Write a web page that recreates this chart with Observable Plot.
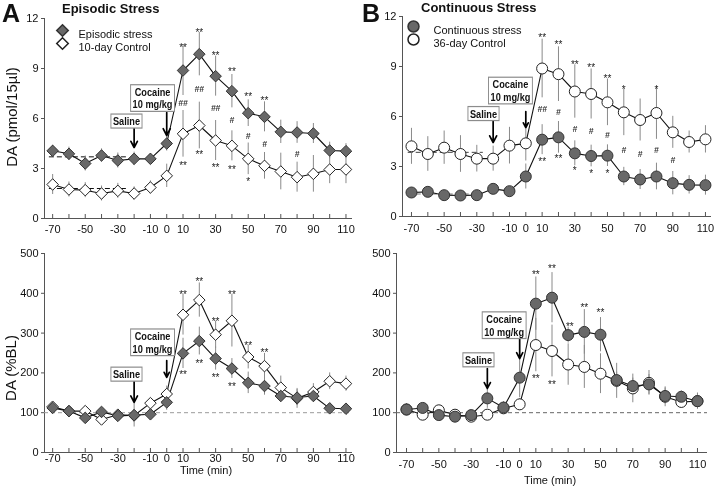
<!DOCTYPE html>
<html><head><meta charset="utf-8">
<script src="https://cdn.jsdelivr.net/npm/d3@7"></script>
<script src="https://cdn.jsdelivr.net/npm/@observablehq/plot@0.6"></script>
<style>
body{margin:0;background:#fff;}
#chart{position:relative;width:720px;height:490px;overflow:hidden;font-family:"Liberation Sans",Arial,sans-serif;color:#111;filter:grayscale(1);}
.panel{position:absolute;}
.lbl{position:absolute;white-space:nowrap;line-height:1;}
.letter{font-weight:bold;font-size:25px;}
.title{font-weight:bold;font-size:13px;}
.ylab{font-size:15px;transform:translate(-50%,-50%) rotate(-90deg);}
.xlab{font-size:11px;transform:translate(-50%,-50%);}
</style></head><body><div id="chart"></div>
<script>
// ---------- data ----------
const times = [-70,-60,-50,-40,-30,-20,-10,0,10,20,30,40,50,60,70,80,90,100,110];
const xTickLabels = [-70,-50,-30,-10,0,10,30,50,70,90,110];
const yTicksDA = [0,3,6,9,12];
const yTicksBL = [0,100,200,300,400,500];

// Panel A top: DA (pmol/15µl)
const aStressDA   = [4.06,3.88,3.30,3.78,3.48,3.58,3.58,4.50,8.88,9.86,8.54,7.64,6.32,6.10,5.20,5.16,5.10,4.08,4.04];
const aStressDAse = [0.35,0.4,0.45,0.4,0.45,0.4,0.3,0.45,1.5,1.3,1.2,1.0,0.8,0.9,0.7,0.65,0.6,0.5,0.45];
const aCtrlDA     = [2.04,1.74,1.70,1.50,1.66,1.50,1.86,2.56,5.08,5.58,4.68,4.36,3.58,3.16,2.82,2.48,2.68,2.94,2.94];
const aCtrlDAse   = [0.6,0.45,0.45,0.45,0.45,0.4,0.4,0.7,1.4,1.4,1.2,0.9,0.95,0.8,1.1,0.9,1.1,0.85,0.85];

// Panel B top
const bCtrlDA     = [4.21,3.75,4.13,3.75,3.47,3.47,4.25,4.39,8.88,8.54,7.50,7.35,6.85,6.25,5.79,6.21,5.05,4.47,4.63];
const bCtrlDAse   = [1.08,1.04,1.0,1.1,0.8,0.75,1.1,1.06,1.76,1.64,1.6,1.5,1.4,1.4,1.26,1.58,0.96,0.66,0.82];
const bStressDA   = [1.44,1.48,1.28,1.26,1.28,1.66,1.52,2.40,4.61,4.75,3.79,3.63,3.65,2.40,2.22,2.40,2.00,1.90,1.88];
const bStressDAse = [0.25,0.25,0.2,0.25,0.25,0.2,0.2,0.75,0.9,0.95,0.75,0.65,0.65,0.55,0.6,0.8,0.7,0.55,0.6];

// Panel A bottom: DA (%BL)
const aStressBL   = [112,104,87,102,92,94,96,126,249,280,236,211,175,167,142,138,142,111,110];
const aStressBLse = [10,8,10,8,8,30,10,20,38,35,29,25,27,23,15,20,15,8,8];
const aCtrlBL     = [115,104,104,83,95,93,124,147,346,383,296,331,240,217,163,136,152,179,173];
const aCtrlBLse   = [10,8,10,8,8,10,10,20,51,43,34,66,30,32,29,25,21,21,19];

// Panel B bottom
const bStressBL   = [108,112,94,90,94,136,113,188,374,389,295,303,296,182,167,171,142,140,129];
const bStressBLse = [15,10,10,8,10,25,15,50,67,63,20,56,43,20,20,25,20,15,20];
const bCtrlBL     = [108,95,106,95,90,95,111,121,270,255,221,215,198,180,161,175,140,127,129];
const bCtrlBLse   = [10,8,8,8,8,8,10,15,67,65,52,54,50,44,36,31,25,15,20];

// significance marks
const aTopMarks = [
  {t:10,v:10.4,s:"**"},{t:20,v:11.34,s:"**"},{t:30,v:9.96,s:"**"},{t:40,v:9.0,s:"**"},{t:50,v:7.5,s:"**"},{t:60,v:7.26,s:"**"},
  {t:10,v:3.34,s:"**"},{t:20,v:4.0,s:"**"},{t:30,v:3.2,s:"**"},{t:40,v:3.1,s:"**"},{t:50,v:2.38,s:"*"},
  {t:10,v:6.9,s:"##"},{t:20,v:7.74,s:"##"},{t:30,v:6.6,s:"##"},{t:40,v:5.9,s:"#"},{t:50,v:4.94,s:"#"},{t:60,v:4.46,s:"#"},{t:80,v:3.86,s:"#"}
];
const bTopMarks = [
  {t:10,v:10.88,s:"**"},{t:20,v:10.5,s:"**"},{t:30,v:9.28,s:"**"},{t:40,v:9.1,s:"**"},{t:50,v:8.44,s:"**"},{t:60,v:7.78,s:"*"},{t:80,v:7.78,s:"*"},
  {t:10,v:6.45,s:"##"},{t:20,v:6.25,s:"#"},{t:30,v:5.23,s:"#"},{t:40,v:5.09,s:"#"},{t:50,v:4.89,s:"#"},{t:60,v:3.95,s:"#"},{t:70,v:3.71,s:"#"},{t:80,v:3.95,s:"#"},{t:90,v:3.35,s:"#"},
  {t:10,v:3.45,s:"**"},{t:20,v:3.65,s:"**"},{t:30,v:2.91,s:"*"},{t:40,v:2.75,s:"*"},{t:50,v:2.75,s:"*"}
];
const aBotMarks = [
  {t:10,v:404,s:"**"},{t:20,v:437,s:"**"},{t:30,v:337,s:"**"},{t:40,v:405,s:"**"},{t:50,v:276,s:"**"},{t:60,v:257,s:"**"},
  {t:10,v:203,s:"**"},{t:20,v:230,s:"**"},{t:30,v:194,s:"**"},{t:40,v:173,s:"**"}
];
const bBotMarks = [
  {t:10,v:454,s:"**"},{t:20,v:468,s:"**"},{t:31,v:324,s:"**"},{t:40,v:370,s:"**"},{t:50,v:358,s:"**"},
  {t:10,v:192,s:"**"},{t:20,v:178,s:"**"}
];

// annotations (boxes + arrows)
const aTopNotes = [{label:"Saline",t:-24.7,v:5.85},{label:"Cocaine\n10 mg/kg",t:-8.7,v:7.23}];
const aTopArrows = [{t:-20,from:5.52,to:4.26},{t:0,from:6.36,to:4.98}];
const bTopNotes = [{label:"Saline",t:-25.9,v:6.18},{label:"Cocaine\n10 mg/kg",t:-9.4,v:7.56}];
const bTopArrows = [{t:-20,from:5.8,to:4.44},{t:0,from:6.3,to:5.34}];
const aBotNotes = [{label:"Saline",t:-24.7,v:197},{label:"Cocaine\n10 mg/kg",t:-8.7,v:277}];
const aBotArrows = [{t:-20,from:181,to:126},{t:0,from:231,to:189}];
const bBotNotes = [{label:"Saline",t:-25.5,v:233},{label:"Cocaine\n10 mg/kg",t:-9.6,v:320}];
const bBotArrows = [{t:-20,from:211,to:161},{t:0,from:286,to:236}];

// baseline dashed lines
const aTopBase = [{v:3.7,a:-72,b:-23,c:"#111"},{v:1.8,a:-72,b:-23,c:"#111"}];
const bTopBase = [{v:3.85,a:-72,b:-26,c:"#444"},{v:1.35,a:-72,b:-26,c:"#777"}];

const aLegend = ["Episodic stress","10-day Control"];
const bLegend = ["Continuous stress","36-day Control"];

// ---------- helpers ----------
const zip = (vals, ses) => times.map((t,i) => ({t, v: vals[i], se: ses[i]}));
const FONT = "'Liberation Sans', Arial, sans-serif";

function panel(o) {
  const stress = zip(o.stress[0], o.stress[1]);
  const ctrl = zip(o.ctrl[0], o.ctrl[1]);
  const sym = o.symbol;
  const r = sym === "circle" ? 5.5 : 5.2;
  const marks = [
    Plot.ruleY([o.yDomain[0]], {stroke: "#555"}),
    Plot.ruleX([o.xDomain[0]], {stroke: "#555"}),
    Plot.axisX({ticks: times, tickSize: 4, dy: -4, tickFormat: () => "", label: null, stroke: "#555"}),
    Plot.axisX({ticks: xTickLabels, tickSize: 0, tickPadding: o.tickPad, tickFormat: d => String(d), label: null, fontSize: 11}),
    Plot.axisY({ticks: o.yTicks, tickSize: 3, tickPadding: 3, tickFormat: d => String(d), label: null, fontSize: 11, stroke: "#555"}),
  ];
  if (o.base) marks.push(Plot.ruleY(o.base, {y: "v", x1: "a", x2: "b", stroke: "c", strokeDasharray: "5,3"}));
  if (o.hline) marks.push(Plot.ruleY([100], {stroke: o.hline, strokeDasharray: "4,3"}));
  marks.push(
    Plot.ruleX(stress, {x: "t", y1: d => d.v - d.se, y2: d => d.v + d.se, stroke: "#8a8a8a"}),
    Plot.ruleX(ctrl, {x: "t", y1: d => d.v - d.se, y2: d => d.v + d.se, stroke: "#8a8a8a"}),
    Plot.line(ctrl, {x: "t", y: "v", stroke: "#111", strokeWidth: 1.1}),
    Plot.line(stress, {x: "t", y: "v", stroke: "#111", strokeWidth: 1.1}),
    Plot.dot(ctrl, {x: "t", y: "v", symbol: sym, r, fill: "white", stroke: "#222", strokeWidth: 1}),
    Plot.dot(stress, {x: "t", y: "v", symbol: sym, r, fill: "#686868", stroke: "#333", strokeWidth: 1}),
    Plot.text(o.sig.filter(d => d.s.includes("*")), {x: "t", y: "v", text: "s", fontSize: 10, dy: 3, fill: "#222"}),
    Plot.text(o.sig.filter(d => d.s.includes("#")), {x: "t", y: "v", text: "s", fontSize: 8.5, fontStyle: "italic", fontWeight: "bold", fill: "#333"}),
    Plot.arrow(o.arrows, {x1: "t", x2: "t", y1: "from", y2: "to", stroke: "#000", strokeWidth: 1.7, headLength: 8, headAngle: 55}),
    Plot.text(o.notes, {x: "t", y: "v", text: "label", fontWeight: "bold", fontSize: 11.5, lineHeight: 1.1, fill: "#111", ariaDescription: "boxed"})
  );
  if (o.legend) {
    const L = o.legend;
    marks.push(
      Plot.dot([0], {x: null, y: null, frameAnchor: "top-left", dx: L.dx, dy: L.dy, symbol: sym, r, fill: "#686868", stroke: "#333"}),
      Plot.dot([0], {x: null, y: null, frameAnchor: "top-left", dx: L.dx, dy: L.dy + L.gap, symbol: sym, r, fill: "white", stroke: "#222"}),
      Plot.text([L.labels[0]], {x: null, y: null, text: d => d, frameAnchor: "top-left", dx: L.tx, dy: L.dy, textAnchor: "start", fontSize: 11, fill: "#111"}),
      Plot.text([L.labels[1]], {x: null, y: null, text: d => d, frameAnchor: "top-left", dx: L.tx, dy: L.dy + L.gap, textAnchor: "start", fontSize: 11, fill: "#111"})
    );
  }
  const svg = Plot.plot({
    width: 360, height: 240,
    marginLeft: o.ml, marginRight: o.mr, marginTop: o.mt, marginBottom: o.mb,
    x: {domain: o.xDomain, label: null},
    y: {domain: o.yDomain, label: null},
    style: {fontFamily: FONT, fontSize: "11px", color: "#111", background: "transparent", overflow: "visible"},
    marks
  });
  svg.classList.add("panel");
  svg.style.left = o.left + "px";
  svg.style.top = o.top + "px";
  return svg;
}

// draw a framed box behind the annotation texts and condense them horizontally
function boxify(svg) {
  svg.querySelectorAll('g[aria-description="boxed"]').forEach(g => {
    g.querySelectorAll("text").forEach(t => {
      const bb = t.getBBox();
      const rect = document.createElementNS("http://www.w3.org/2000/svg", "rect");
      const px = 2.5, py = 1;
      rect.setAttribute("x", bb.x - px);
      rect.setAttribute("y", bb.y - py);
      rect.setAttribute("width", bb.width + 2 * px);
      rect.setAttribute("height", bb.height + 2 * py);
      rect.setAttribute("fill", "white");
      rect.setAttribute("stroke", "#8c8c8c");
      rect.setAttribute("stroke-width", "1.2");
      const tr = (t.getAttribute("transform") || "") + " scale(0.8,1)";
      rect.setAttribute("transform", tr);
      t.setAttribute("transform", tr);
      g.insertBefore(rect, t);
    });
  });
}

const chart = document.getElementById("chart");
const panels = [
  panel({left: 0, top: 0, ml: 44, mr: 8, mt: 18, mb: 22, xDomain: [-75, 114], yDomain: [0, 12], yTicks: yTicksDA, tickPad: 7,
    stress: [aStressDA, aStressDAse], ctrl: [aCtrlDA, aCtrlDAse], symbol: "diamond2", sig: aTopMarks,
    notes: aTopNotes, arrows: aTopArrows, base: aTopBase,
    legend: {labels: aLegend, dx: 18, dy: 12, gap: 13, tx: 34}}),
  panel({left: 360, top: 0, ml: 42, mr: 9, mt: 16, mb: 24, xDomain: [-75.5, 113.7], yDomain: [0, 12], yTicks: yTicksDA, tickPad: 8,
    stress: [bStressDA, bStressDAse], ctrl: [bCtrlDA, bCtrlDAse], symbol: "circle", sig: bTopMarks,
    notes: bTopNotes, arrows: bTopArrows, base: bTopBase,
    legend: {labels: bLegend, dx: 11, dy: 10, gap: 13, tx: 31}}),
  panel({left: 0, top: 240, ml: 44, mr: 8, mt: 13, mb: 28, xDomain: [-75, 114], yDomain: [0, 500], yTicks: yTicksBL, tickPad: 2,
    stress: [aStressBL, aStressBLse], ctrl: [aCtrlBL, aCtrlBLse], symbol: "diamond2", sig: aBotMarks,
    notes: aBotNotes, arrows: aBotArrows, hline: "#9a9a9a"}),
  panel({left: 360, top: 240, ml: 36, mr: 13, mt: 13, mb: 28, xDomain: [-76.2, 116.2], yDomain: [0, 500], yTicks: yTicksBL, tickPad: 8,
    stress: [bStressBL, bStressBLse], ctrl: [bCtrlBL, bCtrlBLse], symbol: "circle", sig: bBotMarks,
    notes: bBotNotes, arrows: bBotArrows, hline: "#666"})
];
panels.forEach(s => { chart.appendChild(s); boxify(s); });

function label(text, cls, x, y) {
  const d = document.createElement("div");
  d.className = "lbl " + cls;
  d.textContent = text;
  d.style.left = x + "px";
  d.style.top = y + "px";
  chart.appendChild(d);
}
label("A", "letter", 2, 1);
label("B", "letter", 362, 1);
label("Episodic Stress", "title", 62, 2);
label("Continuous Stress", "title", 421, 1);
label("DA (pmol/15µl)", "ylab", 11, 117);
label("DA (%BL)", "ylab", 10, 368);
label("Time (min)", "xlab", 206, 470);
label("Time (min)", "xlab", 550, 480);
</script></body></html>
